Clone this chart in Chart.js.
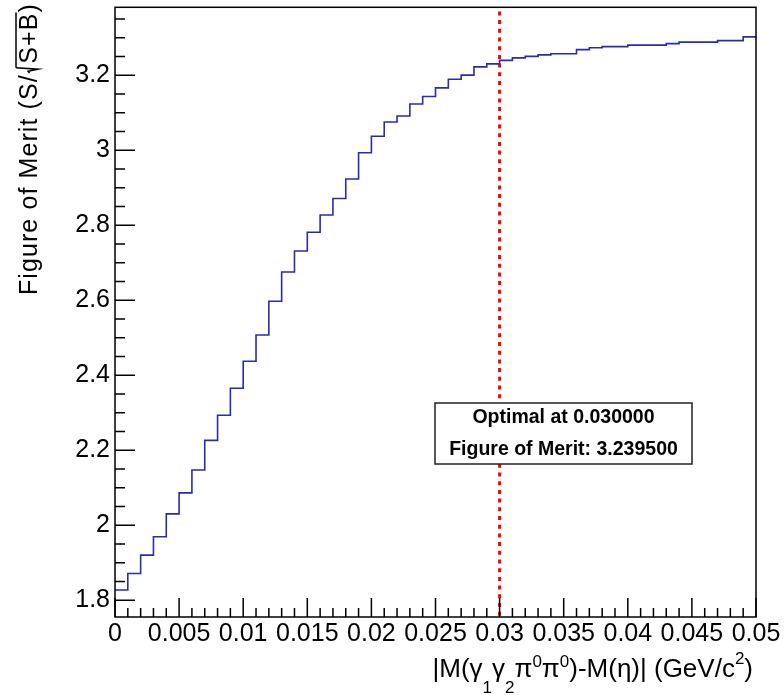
<!DOCTYPE html>
<html>
<head>
<meta charset="utf-8">
<script src="https://cdn.jsdelivr.net/npm/chart.js@4.4.1/dist/chart.umd.min.js"></script>
<style>
  html, body { margin: 0; padding: 0; background: #fff; }
  #wrap { width: 784px; height: 695px; }
</style>
</head>
<body>
<div id="wrap"><canvas id="fomChart" width="784" height="695"></canvas></div>
<script>
// bin edges of the mass-window scan (GeV/c^2)
const binEdges = [
  0, 0.001, 0.002, 0.003, 0.004, 0.005, 0.006, 0.007, 0.008, 0.009,
  0.010, 0.011, 0.012, 0.013, 0.014, 0.015, 0.016, 0.017, 0.018, 0.019,
  0.020, 0.021, 0.022, 0.023, 0.024, 0.025, 0.026, 0.027, 0.028, 0.029,
  0.030, 0.031, 0.032, 0.033, 0.034, 0.035, 0.036, 0.037, 0.038, 0.039,
  0.040, 0.041, 0.042, 0.043, 0.044, 0.045, 0.046, 0.047, 0.048, 0.049,
  0.050
];

// figure of merit S/sqrt(S+B) per bin
const fomValues = [
  1.827, 1.871, 1.920, 1.969, 2.030, 2.086, 2.147, 2.226, 2.293, 2.365,
  2.437, 2.507, 2.597, 2.675, 2.731, 2.781, 2.827, 2.871, 2.923, 2.993,
  3.037, 3.075, 3.091, 3.123, 3.143, 3.166, 3.189, 3.200, 3.222, 3.230,
  3.2395, 3.246, 3.250, 3.254, 3.257, 3.257, 3.268, 3.273, 3.276, 3.276,
  3.280, 3.280, 3.280, 3.284, 3.288, 3.288, 3.288, 3.292, 3.292, 3.302
];

const optimalCut = 0.03;
const optimalFom = 3.2395;
const optimalLineY = [3.37, 1.755];

const xTickValues = [0, 0.005, 0.01, 0.015, 0.02, 0.025, 0.03, 0.035, 0.04, 0.045, 0.05];
const xTickLabels = ["0", "0.005", "0.01", "0.015", "0.02", "0.025", "0.03", "0.035", "0.04", "0.045", "0.05"];
const yTickValues = [1.8, 2.0, 2.2, 2.4, 2.6, 2.8, 3.0, 3.2];
const yTickLabels = ["1.8", "2", "2.2", "2.4", "2.6", "2.8", "3", "3.2"];

const FONT = "'Liberation Sans', Arial, Helvetica, sans-serif";

// histogram as a step line: one point per low edge, plus the last upper edge
const histPoints = binEdges.map((x, i) => ({ x: x, y: fomValues[Math.min(i, fomValues.length - 1)] }));
const optPoints = optimalLineY.map(y => ({ x: optimalCut, y: y }));

// text pieces: {t, size, dy} or {rad} for a square-root sign
function richWidth(ctx, parts) {
  let w = 0;
  parts.forEach(p => {
    if (p.rad) { w += p.size * 0.42; return; }
    ctx.font = p.size + "px " + FONT;
    w += ctx.measureText(p.t).width;
  });
  return w;
}

function drawRich(ctx, parts, x, y) {
  let cx = x;
  let radStart = null;
  parts.forEach(p => {
    if (p.rad) {
      const s = p.size;
      ctx.beginPath();
      ctx.moveTo(cx + 0.04 * s, y - 0.30 * s);
      ctx.lineTo(cx + 0.12 * s, y - 0.36 * s);
      ctx.lineTo(cx + 0.20 * s, y + 0.04 * s);
      ctx.lineTo(cx + 0.26 * s, y - 0.84 * s);
      ctx.stroke();
      radStart = cx + 0.26 * s;
      cx += s * 0.42;
      return;
    }
    ctx.font = p.size + "px " + FONT;
    ctx.fillText(p.t, cx, y + (p.dy || 0));
    const w = ctx.measureText(p.t).width;
    if (p.over && radStart !== null) {
      ctx.beginPath();
      ctx.moveTo(radStart, y - 0.84 * p.size);
      ctx.lineTo(cx + w, y - 0.84 * p.size);
      ctx.stroke();
    }
    cx += w;
  });
}

const rootFrame = {
  id: "rootFrame",
  afterDatasetsDraw(chart) {
    const ctx = chart.ctx;
    const a = chart.chartArea;
    const xs = chart.scales.x;
    const ys = chart.scales.y;
    ctx.save();
    ctx.strokeStyle = "#000";
    ctx.lineWidth = 1.5;

    // x ticks pointing inward, 5 subdivisions
    ctx.beginPath();
    for (let i = 0; i < xTickValues.length; i++) {
      const px = xs.getPixelForValue(xTickValues[i]);
      ctx.moveTo(px, a.bottom);
      ctx.lineTo(px, a.bottom - 19);
      if (i < xTickValues.length - 1) {
        const step = (xTickValues[i + 1] - xTickValues[i]) / 5;
        for (let k = 1; k < 5; k++) {
          const mx = xs.getPixelForValue(xTickValues[i] + k * step);
          ctx.moveTo(mx, a.bottom);
          ctx.lineTo(mx, a.bottom - 9);
        }
      }
    }
    // y ticks pointing inward, 4 subdivisions
    const yStep = (yTickValues[1] - yTickValues[0]) / 4;
    for (let i = 0; i < yTickValues.length; i++) {
      const py = ys.getPixelForValue(yTickValues[i]);
      ctx.moveTo(a.left, py);
      ctx.lineTo(a.left + 20, py);
    }
    for (let v = yTickValues[0] - yStep; v > ys.min; v -= yStep) {
      const py = ys.getPixelForValue(v);
      ctx.moveTo(a.left, py); ctx.lineTo(a.left + 10, py);
    }
    for (let v = yTickValues[0] + yStep; v < ys.max; v += yStep) {
      const r = (v - yTickValues[0]) / (4 * yStep);
      if (Math.abs(r - Math.round(r)) < 1e-6) continue;
      const py = ys.getPixelForValue(v);
      ctx.moveTo(a.left, py); ctx.lineTo(a.left + 10, py);
    }
    ctx.stroke();

    ctx.strokeRect(a.left, a.top, a.right - a.left, a.bottom - a.top);

    // result box
    const bx = 435, by = 403, bw = 257, bh = 61;
    ctx.fillStyle = "#fff";
    ctx.fillRect(bx, by, bw, bh);
    ctx.lineWidth = 1.5;
    ctx.strokeStyle = "#222";
    ctx.strokeRect(bx, by, bw, bh);
    ctx.fillStyle = "#000";
    ctx.font = "bold 19.5px " + FONT;
    ctx.textAlign = "center";
    ctx.textBaseline = "middle";
    ctx.fillText("Optimal at " + optimalCut.toFixed(6), bx + bw / 2, by + 15);
    ctx.fillText("Figure of Merit: " + optimalFom.toFixed(6), bx + bw / 2, by + 47);
    ctx.restore();
  },
  afterDraw(chart) {
    const ctx = chart.ctx;
    const a = chart.chartArea;
    ctx.save();
    ctx.fillStyle = "#000";
    ctx.strokeStyle = "#000";
    ctx.lineWidth = 1.5;
    ctx.textAlign = "left";
    ctx.textBaseline = "alphabetic";

    // x title
    const xt = [
      { t: "|M(", size: 26 }, { t: "\u03b3", size: 26 }, { t: "1", size: 17, dy: 16 },
      { t: "\u03b3", size: 26 }, { t: "2", size: 17, dy: 16 },
      { t: "\u03c0", size: 26 }, { t: "0", size: 17, dy: -10 },
      { t: "\u03c0", size: 26 }, { t: "0", size: 17, dy: -10 },
      { t: ")-M(\u03b7)| (GeV/c", size: 26 }, { t: "2", size: 17, dy: -13 },
      { t: ")", size: 26 }
    ];
    const xw = richWidth(ctx, xt);
    drawRich(ctx, xt, a.right - 3 - xw, 677);

    // y title, rotated, aligned to the top of the axis
    ctx.letterSpacing = "1.1px";
    const yt = [
      { t: "Figure of Merit (S/", size: 25 }, { rad: true, size: 25 },
      { t: "S+B", size: 25, over: true }, { t: ")", size: 25 }
    ];
    const yw = richWidth(ctx, yt);
    ctx.translate(37, 3);
    ctx.rotate(-Math.PI / 2);
    drawRich(ctx, yt, -yw, 0);
    ctx.restore();
  }
};

new Chart(document.getElementById("fomChart").getContext("2d"), {
  type: "line",
  data: {
    datasets: [{
      label: "FOM",
      data: histPoints,
      stepped: "before",
      borderColor: "#2a2ab4",
      borderWidth: 1.6,
      pointRadius: 0,
      fill: false
    }, {
      label: "Optimal",
      data: optPoints,
      borderColor: "#ff0000",
      borderWidth: 3,
      borderDash: [4, 4.7],
      borderCapStyle: "butt",
      pointRadius: 0,
      fill: false
    }]
  },
  options: {
    responsive: false,
    animation: false,
    events: [],
    layout: { padding: { left: 0, right: 28, top: 7.3, bottom: 0 } },
    plugins: {
      legend: { display: false },
      tooltip: { enabled: false }
    },
    scales: {
      x: {
        type: "linear",
        min: 0,
        max: 0.05,
        grid: { display: false, drawTicks: false },
        border: { display: false },
        afterBuildTicks: s => { s.ticks = xTickValues.map(v => ({ value: v })); },
        afterFit: s => { s.height = 78; s.paddingLeft = 0; s.paddingRight = 0; },
        ticks: {
          autoSkip: false,
          maxRotation: 0,
          padding: 2,
          color: "#000",
          font: { family: FONT, size: 25 },
          callback: (v, i) => xTickLabels[i]
        }
      },
      y: {
        type: "linear",
        min: 1.755,
        max: 3.381,
        grid: { display: false, drawTicks: false },
        border: { display: false },
        afterBuildTicks: s => { s.ticks = yTickValues.map(v => ({ value: v })); },
        afterFit: s => { s.width = 115; s.paddingTop = 0; s.paddingBottom = 0; },
        ticks: {
          autoSkip: false,
          padding: 5,
          color: "#000",
          font: { family: FONT, size: 25 },
          callback: (v, i) => yTickLabels[i]
        }
      }
    }
  },
  plugins: [rootFrame]
});
</script>
</body>
</html>
